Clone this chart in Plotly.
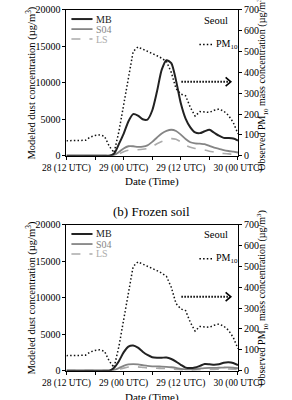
import plotly.graph_objects as go

# ---- data (hours after 28 Mar 12 UTC) ----
hours = list(range(0, 37))
x_tickvals = [0, 6, 12, 18, 24, 30, 36]
x_ticktext = ["28 (12 UTC)", " ", "29 (00 UTC)", " ", "29 (12 UTC)", " ", "30 (00 UTC)"]

pm10 = [72, 73, 72, 72, 74, 90, 97, 100, 93, 45, 15, 115, 250, 380, 500, 522,
        512, 502, 493, 480, 468, 452, 400, 322, 296, 288, 232, 190, 212, 210,
        208, 218, 224, 214, 194, 160, 105]

mb_a = [0, 0, 0, 0, 0, 0, 0, 0, 0, 0, 300, 1600, 3000, 4700, 5700, 5500, 5000,
        4950, 6200, 8800, 11800, 13100, 12700, 10300, 7200, 5100, 3900, 3200,
        3100, 3350, 3550, 3150, 2750, 2450, 2420, 2350, 2080]
s04_a = [0, 0, 0, 0, 0, 0, 0, 0, 0, 0, 100, 500, 1000, 1300, 1300, 1220, 1250,
         1420, 1900, 2500, 3050, 3400, 3560, 3400, 2900, 2300, 1850, 1700, 1650,
         1600, 1350, 1100, 950, 780, 650, 550, 440]
ls_a = [0, 0, 0, 0, 0, 0, 0, 0, 0, 0, 0, 250, 550, 750, 800, 820, 880, 1000,
        1250, 1650, 1950, 2200, 2350, 2250, 1900, 1450, 1150, 1000, 900, 800,
        620, 520, 400, 300, 250, 190, 140]

mb_b = [0, 0, 0, 0, 0, 0, 0, 0, 0, 0, 400, 1300, 2500, 3300, 3450, 3150, 2600,
        2150, 1850, 1780, 1780, 1790, 1600, 1250, 800, 420, 350, 430, 650, 900,
        880, 820, 880, 1080, 1150, 1050, 750]
s04_b = [0, 0, 0, 0, 0, 0, 0, 0, 0, 0, 100, 350, 650, 850, 900, 850, 750, 650,
         600, 580, 560, 530, 470, 380, 260, 180, 170, 220, 300, 360, 380, 380,
         400, 430, 440, 400, 330]
ls_b = [0, 0, 0, 0, 0, 0, 0, 0, 0, 0, 0, 150, 350, 500, 560, 520, 450, 380, 340,
        320, 300, 280, 240, 180, 120, 80, 70, 100, 140, 170, 180, 180, 190, 210,
        220, 200, 160]

FONT = "Liberation Serif, Times New Roman, serif"
C_MB, C_S04, C_LS = "#222222", "#858585", "#ababab"

fig = go.Figure()

def add_panel(xa, ya, ya2, mb, s04, ls):
    fig.add_trace(go.Scatter(x=hours, y=pm10, xaxis=xa, yaxis=ya2, mode="lines",
                             line=dict(color="#111111", width=1.5, dash="1.5px,2.2px", shape="linear")))
    fig.add_trace(go.Scatter(x=hours, y=ls, xaxis=xa, yaxis=ya, mode="lines",
                             line=dict(color=C_LS, width=1.6, dash="dash", shape="spline", smoothing=0.7)))
    fig.add_trace(go.Scatter(x=hours, y=s04, xaxis=xa, yaxis=ya, mode="lines",
                             line=dict(color=C_S04, width=1.8, shape="spline", smoothing=0.7)))
    fig.add_trace(go.Scatter(x=hours, y=mb, xaxis=xa, yaxis=ya, mode="lines",
                             line=dict(color=C_MB, width=2, shape="spline", smoothing=0.7)))

add_panel("x", "y", "y2", mb_a, s04_a, ls_a)
add_panel("x2", "y3", "y4", mb_b, s04_b, ls_b)

xdom = [50 / 292, 257 / 292]
top_dom = [1 - 155 / 400, 1 - 5 / 400]
bot_dom = [1 - 376 / 400, 1 - 226 / 400]

xcommon = dict(range=[0, 36], tickvals=x_tickvals, ticktext=x_ticktext, ticks="outside",
               ticklen=3, tickcolor="black", showline=True, linecolor="black", linewidth=1,
               mirror=True, showgrid=False, zeroline=False, domain=xdom, tickangle=0,
               tickfont=dict(family=FONT, size=9.5, color="black"))
ycommon = dict(range=[0, 20000], tickvals=[0, 5000, 10000, 15000, 20000], tickformat="d",
               ticks="outside", ticklen=3, tickcolor="black", showline=True, linecolor="black",
               linewidth=1, showgrid=False, zeroline=False,
               tickfont=dict(family=FONT, size=10, color="black"))
y2common = dict(range=[0, 700], dtick=100, tickformat="d", ticks="outside", ticklen=3,
                tickcolor="black", showline=True, linecolor="black", linewidth=1, showgrid=False,
                zeroline=False, side="right", tickfont=dict(family=FONT, size=10, color="black"))

fig.update_layout(
    width=292, height=400, margin=dict(l=0, r=0, t=0, b=0),
    paper_bgcolor="white", plot_bgcolor="white", showlegend=False,
    font=dict(family=FONT, size=10, color="black"),
    xaxis=dict(**xcommon, anchor="y"),
    yaxis=dict(**ycommon, domain=top_dom, anchor="x"),
    yaxis2=dict(**y2common, overlaying="y", anchor="x"),
    xaxis2=dict(**xcommon, anchor="y3"),
    yaxis3=dict(**ycommon, domain=bot_dom, anchor="x2"),
    yaxis4=dict(**y2common, overlaying="y3", anchor="x2"),
)

shapes = []
annos = []

def panel_decor(xa, ya, pm_ty):
    xd, yd = xa + " domain", ya + " domain"
    for yy, col, dash, w in [(0.937, C_MB, "solid", 2), (0.868, C_S04, "solid", 1.8), (0.8, C_LS, "dash", 1.6)]:
        shapes.append(dict(type="line", xref=xd, yref=yd, x0=0.029, x1=0.152, y0=yy, y1=yy,
                           line=dict(color=col, width=w, dash=dash)))
    for yy, col, txt in [(0.937, C_MB, "MB"), (0.868, C_S04, "S04"), (0.8, C_LS, "LS")]:
        annos.append(dict(xref=xd, yref=yd, x=0.158, y=yy, text=txt, showarrow=False,
                          xanchor="left", yanchor="middle", font=dict(family=FONT, size=10, color=col)))
    annos.append(dict(xref=xd, yref=yd, x=0.955, y=0.93, text="Seoul", showarrow=False,
                      xanchor="right", yanchor="middle", font=dict(family=FONT, size=10.5, color="black")))
    shapes.append(dict(type="line", xref=xd, yref=yd, x0=0.775, x1=0.855, y0=pm_ty, y1=pm_ty,
                       line=dict(color="black", width=1.5, dash="1.5px,2.2px")))
    annos.append(dict(xref=xd, yref=yd, x=0.862, y=pm_ty, text="PM<sub>10</sub>", showarrow=False,
                      xanchor="left", yanchor="middle", font=dict(family=FONT, size=10, color="black")))
    ay = 0.507
    shapes.append(dict(type="line", xref=xd, yref=yd, x0=0.67, x1=0.952, y0=ay, y1=ay,
                       line=dict(color="black", width=2, dash="1.5px,1.5px")))
    shapes.append(dict(type="path", xref=xd, yref=yd,
                       path=f"M 0.928 {ay + 0.03} L 0.958 {ay} L 0.928 {ay - 0.03}",
                       line=dict(color="black", width=1.6)))

panel_decor("x", "y", 0.763)
panel_decor("x2", "y3", 0.767)

for ycen in [1 - 80 / 400, 1 - 301 / 400]:
    annos.append(dict(xref="paper", yref="paper", x=7 / 292, y=ycen, textangle=-90,
                      text="Modeled dust concentration (µg/m<sup>3</sup>)", showarrow=False,
                      xanchor="center", yanchor="middle", font=dict(family=FONT, size=10.5, color="black")))
    annos.append(dict(xref="paper", yref="paper", x=286 / 292, y=ycen, textangle=-90,
                      text="Observed PM<sub>10</sub> mass concentration (µg/m<sup>3</sup>)", showarrow=False,
                      xanchor="center", yanchor="middle", font=dict(family=FONT, size=10, color="black")))
annos.append(dict(xref="paper", yref="paper", x=153 / 292, y=1 - 182 / 400, text="Date (Time)",
                  showarrow=False, xanchor="center", yanchor="middle",
                  font=dict(family=FONT, size=11, color="black")))
annos.append(dict(xref="paper", yref="paper", x=153 / 292, y=1 - 404 / 400, text="Date (Time)",
                  showarrow=False, xanchor="center", yanchor="middle",
                  font=dict(family=FONT, size=11, color="black")))
annos.append(dict(xref="paper", yref="paper", x=153 / 292, y=1 - 212 / 400, text="(b) Frozen soil",
                  showarrow=False, xanchor="center", yanchor="middle",
                  font=dict(family=FONT, size=13, color="black")))

fig.update_layout(shapes=shapes, annotations=annos)
fig.write_html("out.html")
